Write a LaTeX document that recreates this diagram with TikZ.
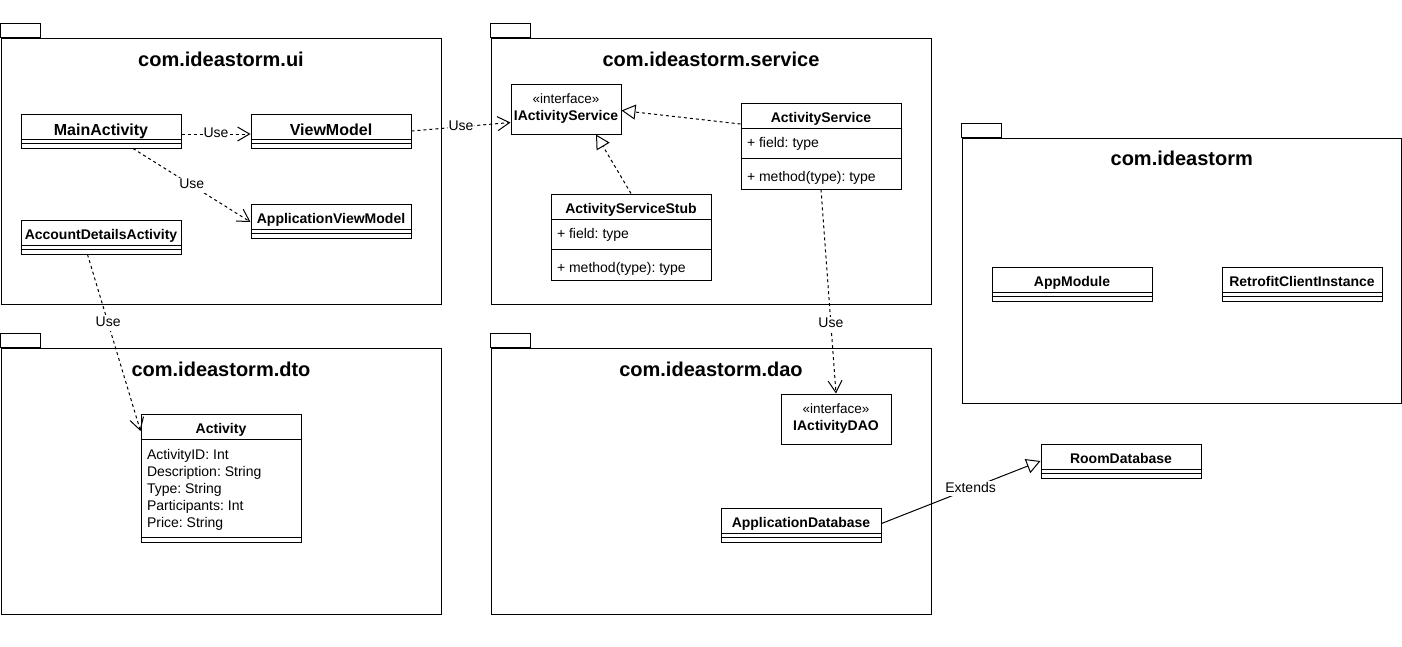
\documentclass[tikz,border=0pt]{standalone}
\usepackage{fontspec}
\setmainfont{Liberation Sans}
\usetikzlibrary{arrows.meta,calc}

\tikzset{
  box/.style={draw, line width=1pt, inner sep=0pt, fill=white},
  ttl/.style={font=\fontsize{20pt}{24pt}\selectfont\bfseries, inner sep=0pt, anchor=base},
  cname/.style={font=\fontsize{14pt}{16pt}\selectfont\bfseries, inner sep=0pt, anchor=base},
  stereo/.style={font=\fontsize{13.5pt}{16pt}\selectfont, inner sep=0pt, anchor=base},
  memb/.style={font=\fontsize{14pt}{17pt}\selectfont, inner sep=0pt, anchor=base west},
  lbl/.style={font=\fontsize{14pt}{16pt}\selectfont, fill=white, inner sep=1pt, text height=10pt, text depth=3pt},
  dep/.style={dash pattern=on 3pt off 3pt, -{Straight Barb[length=12pt,width=14pt]}},
  real/.style={dash pattern=on 3pt off 3pt, -{Triangle[open,length=14pt,width=15pt]}},
  gen/.style={-{Triangle[open,length=14pt,width=15pt]}},
}

% simple class: name, x, y, font size, title
\newcommand\simplecls[5]{%
  \node[box, minimum width=160pt, minimum height=34pt, anchor=north west] (#1) at (#2,#3) {};
  \node[cname, font=\fontsize{#4pt}{#4pt}\selectfont\bfseries] (#1-t) at ($(#1.north)+(0,#4+6)$) {#5};
  \draw ($(#1.north west)+(0,26)$) -- ($(#1.north east)+(0,26)$);
  \draw ($(#1.north west)+(0,30)$) -- ($(#1.north east)+(0,30)$);
}
% full class with field and method
\newcommand\fullcls[4]{%
  \node[box, minimum width=160pt, minimum height=86pt, anchor=north west] (#1) at (#2,#3) {};
  \node[cname] (#1-t) at ($(#1.north)+(0,20)$) {#4};
  \draw ($(#1.north west)+(0,26)$) -- ($(#1.north east)+(0,26)$);
  \node[memb] (#1-f) at ($(#1.north west)+(6,45)$) {+ field: type};
  \draw ($(#1.north west)+(0,56)$) -- ($(#1.north east)+(0,56)$);
  \node[memb] (#1-m) at ($(#1.north west)+(6,79)$) {+ method(type): type};
}
% package: name, x, y, w, h, title, title baseline offset
\newcommand\umlpkg[7]{%
  \node[box, minimum width=#4pt, minimum height=#5pt, anchor=north west] (#1) at (#2,#3) {};
  \draw (#1.north west) rectangle ++(40,-14);
  \node[ttl] (#1-t) at ($(#1.north)+(0,#7)$) {#6};
}

\begin{document}
\frenchspacing
\begin{tikzpicture}[x=1pt,y=-1pt,line width=1pt]
\useasboundingbox (0,0) rectangle (1402,646);

% packages
\umlpkg{pui}{0.5}{37.5}{440}{266}{com.ideastorm.ui}{28.5}
\umlpkg{psvc}{490.5}{37.5}{440}{266}{com.ideastorm.service}{28.5}
\umlpkg{pdto}{0.5}{347.5}{440}{266}{com.ideastorm.dto}{28.5}
\umlpkg{pdao}{490.5}{347.5}{440}{266}{com.ideastorm.dao}{28.5}
\umlpkg{pcore}{961.5}{137.5}{439.5}{265}{com.ideastorm}{28}

% ui
\simplecls{main}{20.5}{113.5}{16}{MainActivity}
\simplecls{vm}{250.5}{113.5}{16}{ViewModel}
\simplecls{appvm}{250.5}{203.5}{14}{ApplicationViewModel}
\simplecls{acct}{20.5}{219.5}{14}{AccountDetailsActivity}

% service
\node[box, minimum width=110pt, minimum height=50pt, anchor=north west] (isvc) at (510.5,83.5) {};
\node[stereo] (isvc-s) at ($(isvc.north)+(0,20)$) {«interface»};
\node[cname] (isvc-t) at ($(isvc.north)+(0,36.5)$) {IActivityService};
\fullcls{asvc}{740.5}{102.5}{ActivityService}
\fullcls{stub}{550.5}{193.5}{ActivityServiceStub}

% dto
\node[box, minimum width=160pt, minimum height=128pt, anchor=north west] (act) at (140.5,413.5) {};
\node[cname] (act-t) at ($(act.north)+(0,20)$) {Activity};
\draw ($(act.north west)+(0,26)$) -- ($(act.north east)+(0,26)$);
\node[memb] (act-a1) at ($(act.north west)+(6,46)$) {ActivityID: Int};
\node[memb] (act-a2) at ($(act.north west)+(6,63)$) {Description: String};
\node[memb] (act-a3) at ($(act.north west)+(6,80)$) {Type: String};
\node[memb] (act-a4) at ($(act.north west)+(6,97)$) {Participants: Int};
\node[memb] (act-a5) at ($(act.north west)+(6,114)$) {Price: String};
\draw ($(act.north west)+(0,124)$) -- ($(act.north east)+(0,124)$);

% dao
\node[box, minimum width=110pt, minimum height=50pt, anchor=north west] (idao) at (780.5,393.5) {};
\node[stereo] (idao-s) at ($(idao.north)+(0,20)$) {«interface»};
\node[cname] (idao-t) at ($(idao.north)+(0,36.5)$) {IActivityDAO};
\simplecls{appdb}{720.5}{507.5}{14}{ApplicationDatabase}
\simplecls{room}{1040.5}{443.5}{14}{RoomDatabase}

% core
\simplecls{appmod}{991.5}{266.5}{14}{AppModule}
\simplecls{retro}{1221.5}{266.5}{14}{RetrofitClientInstance}

% connectors
\draw[dep] ([yshift=-3pt]main.east) -- node[lbl]{Use} ([yshift=-3pt]vm.west);
\draw[dep] ([xshift=32pt]main.south) -- node[lbl]{Use} ([yshift=-1pt]appvm.west);
\draw[dep] (vm.east) -- node[lbl]{Use} ([yshift=-13.5pt]isvc.west);
\draw[real] ([yshift=-21.5pt]asvc.north west) -- ([yshift=-1.5pt]isvc.east);
\draw[real] (stub.north) -- ([xshift=30pt]isvc.south);
\draw[dep] (asvc.south) -- node[lbl, pos=0.66]{Use} (idao.north);
\draw[dep] ([xshift=-13.5pt]acct.south) -- node[lbl, pos=0.39]{Use} ([yshift=-17.5pt]act.north west);
\draw[gen] ([yshift=1.5pt]appdb.east) -- node[lbl, pos=0.56]{Extends} (room.west);
\end{tikzpicture}
\end{document}
